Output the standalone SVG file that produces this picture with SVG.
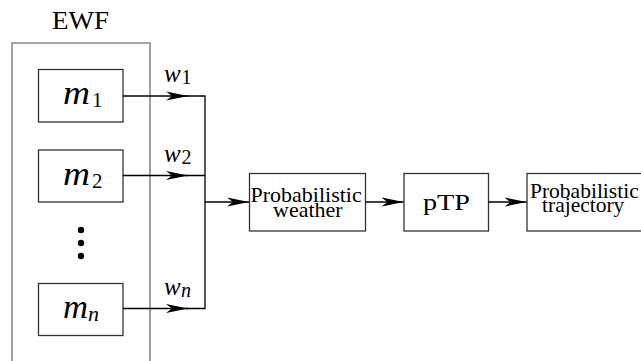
<svg xmlns="http://www.w3.org/2000/svg" width="641" height="361" viewBox="0 0 641 361">
<style>
.box{fill:#fff;stroke:#333;stroke-width:1.3}
.outer{fill:none;stroke:#888;stroke-width:1.6}
.wire{fill:none;stroke:#000;stroke-width:1.3}
.t{font-family:"Liberation Serif","Times New Roman",serif;fill:#000}
.mi{font-family:"Liberation Serif","Times New Roman",serif;font-style:italic;fill:#000}
.big{font-size:34px}
.wv{font-size:25px}
.sub{font-size:21px}
</style>
<defs>
<marker id="ah" markerUnits="userSpaceOnUse" markerWidth="24" markerHeight="12" refX="22" refY="6" orient="auto">
<path d="M22,6 L0,1.5 L6,6 L0,10.5 Z" fill="#000"/>
</marker>
</defs>
<rect width="641" height="361" fill="#fff"/>
<g id="ewf">
<path class="outer" d="M12,370 V43 H150 V370"/>
<text class="t" x="52" y="29" font-size="25" textLength="57" lengthAdjust="spacingAndGlyphs">EWF</text>
</g>
<g id="m1">
<rect class="box" x="38.5" y="69.5" width="84.5" height="52.5"/>
<text class="mi big" x="63" y="104" textLength="27" lengthAdjust="spacingAndGlyphs">m</text>
<text class="t sub" x="92" y="107">1</text>
</g>
<g id="m2">
<rect class="box" x="38.5" y="150" width="84.5" height="52"/>
<text class="mi big" x="63" y="184.5" textLength="27" lengthAdjust="spacingAndGlyphs">m</text>
<text class="t sub" x="92" y="187.5">2</text>
</g>
<g id="dots">
<circle cx="81" cy="230" r="3.2" fill="#000"/>
<circle cx="81" cy="243" r="3.2" fill="#000"/>
<circle cx="81" cy="256" r="3.2" fill="#000"/>
</g>
<g id="mn">
<rect class="box" x="38.5" y="283.5" width="84.5" height="52"/>
<text class="mi big" x="63" y="318" textLength="25" lengthAdjust="spacingAndGlyphs">m</text>
<text class="mi" x="88" y="321" font-size="22">n</text>
</g>
<g id="weather">
<rect class="box" x="249.5" y="173.5" width="116" height="57.5"/>
<text class="t" font-size="22"><tspan x="250.5" y="202">Probabilistic</tspan><tspan x="273" y="216.7">weather</tspan></text>
</g>
<g id="ptp">
<rect class="box" x="404" y="173.5" width="84.5" height="57.5"/>
<text class="t" x="423" y="210" font-size="24" textLength="47" lengthAdjust="spacingAndGlyphs">pTP</text>
</g>
<g id="trajectory">
<rect class="box" x="527" y="173.5" width="120" height="57.5"/>
<text class="t" font-size="21.5"><tspan x="530" y="197.5">Probabilistic</tspan><tspan x="542" y="212">trajectory</tspan></text>
</g>
<g id="connectors">
<path class="wire" d="M123,96 H188" marker-end="url(#ah)"/>
<path class="wire" d="M123,175.5 H188" marker-end="url(#ah)"/>
<path class="wire" d="M123,308.5 H188" marker-end="url(#ah)"/>
<path class="wire" d="M186,96 H205 V308.5 H186 M186,175.5 H205"/>
<path class="wire" d="M205,202 H249" marker-end="url(#ah)"/>
<path class="wire" d="M365.5,202 H403.5" marker-end="url(#ah)"/>
<path class="wire" d="M488.5,202 H526.5" marker-end="url(#ah)"/>
<text class="mi wv" x="164" y="82">w</text>
<text class="t" x="181.5" y="84" font-size="20">1</text>
<text class="mi wv" x="164" y="161.5">w</text>
<text class="t" x="181.5" y="163.5" font-size="20">2</text>
<text class="mi wv" x="164" y="294.5">w</text>
<text class="mi" x="181" y="296.5" font-size="20">n</text>
</g>
</svg>
